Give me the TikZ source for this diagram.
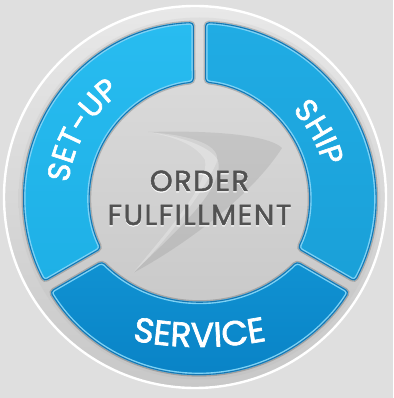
\documentclass[tikz,border=0pt]{standalone}
\usepackage{fontspec}
\setmainfont{Poppins}
\newfontfamily\bandff{Poppins}[FakeBold=2]
\newfontfamily\ordff{Poppins}[FakeBold=1.6,LetterSpace=5]
\usetikzlibrary{decorations.text,calc}
\definecolor{bg}{RGB}{223,223,223}
\definecolor{discT}{RGB}{232,232,232}
\definecolor{discB}{RGB}{200,200,200}
\definecolor{rimT}{RGB}{222,222,222}
\definecolor{rimB}{RGB}{196,196,196}
\definecolor{setT}{RGB}{40,188,240}
\definecolor{setB}{RGB}{30,176,230}
\definecolor{shipT}{RGB}{32,172,228}
\definecolor{shipB}{RGB}{26,160,216}
\definecolor{servT}{RGB}{16,146,210}
\definecolor{servB}{RGB}{8,128,196}
\definecolor{edge}{RGB}{22,118,178}
\definecolor{lightline}{RGB}{125,210,245}
\definecolor{txtgray}{RGB}{82,82,82}
\newcommand\bandfont{\fontsize{31}{31}\selectfont\bandff}
\newcommand\servfont{\fontsize{34.5}{34.5}\selectfont\bandff}
\newcommand\ordfont{\fontsize{29}{29}\selectfont\ordff}
\def\pSetup{($(Co)+(91.79:176.5)$) arc[start angle=91.79,end angle=208.21,radius=176.5] -- ($(Cs)+(205.9:116)$) arc[start angle=205.9,end angle=95.94,radius=116] -- cycle}
\def\pShip{($(Co)+(-28.21:176.5)$) arc[start angle=-28.21,end angle=88.21,radius=176.5] -- ($(Ch)+(84.06:116)$) arc[start angle=84.06,end angle=-25.9,radius=116] -- cycle}
\def\pServ{($(Co)+(211.79:176.5)$) arc[start angle=211.79,end angle=328.21,radius=176.5] -- ($(Cv)+(314.78:138)$) arc[start angle=314.78,end angle=225.22,radius=138] -- cycle}
\newcommand\drawband[3]{%
  \draw[black,opacity=0.18,line width=3,rounded corners=4] #1;
  \shade[top color=#2,bottom color=#3,rounded corners=4] #1;
  \begin{scope}
    \clip[rounded corners=4] #1;
    \draw[lightline,line width=5,rounded corners=4] #1;
    \draw[edge,line width=2.2,rounded corners=4] #1;
  \end{scope}}
\begin{document}
\begin{tikzpicture}[x=1pt,y=1pt]
\useasboundingbox (0,0) rectangle (393,398);
\fill[bg] (0,0) rectangle (393,398);
\coordinate (Co) at (199.5,199.5);
\coordinate (Cs) at (206,200);
\coordinate (Ch) at (193,200);
\coordinate (Cv) at (199.5,235);
\coordinate (Cw) at (195,201);
\coordinate (Ct) at (199.5,407);
% outer disc
\shade[top color=discT,bottom color=discB] (Cw) circle[radius=191];
\draw[white,line width=2.4] (Cw) circle[radius=191];
\shade[top color=rimT,bottom color=rimB] (Co) circle[radius=181];
% swoosh
\fill[black,opacity=0.08] (148,266) .. controls (220,268) and (270,262) .. (282,250) .. controls (250,200) and (180,150) .. (133,125) .. controls (180,170) and (225,210) .. (218,238) .. controls (210,252) and (180,262) .. (148,266) -- cycle;
\fill[white,opacity=0.25] (148,266) .. controls (200,262) and (225,250) .. (215,232) .. controls (200,200) and (160,150) .. (133,125) .. controls (170,170) and (210,215) .. (205,238) .. controls (195,255) and (170,262) .. (148,266) -- cycle;
% bands
\drawband{\pSetup}{setT}{setB}
\drawband{\pShip}{shipT}{shipB}
\drawband{\pServ}{servT}{servB}
% band labels
\path[decorate,decoration={text along path,text align=center,text color=white,text={|\bandfont|SET-UP}}]
  ($(Co)+(205:132)$) arc[start angle=205,end angle=95,radius=132];
\path[decorate,decoration={text along path,text align=center,text color=white,text={|\bandfont|SHIP}}]
  ($(Co)+(84:128)$) arc[start angle=84,end angle=-26,radius=128];
\path[decorate,decoration={text along path,text align=center,text color=white,text={|\servfont|SERVICE}}]
  ($(Ct)+(245:356)$) arc[start angle=245,end angle=295,radius=356];
% centre text
\node[anchor=base,inner sep=0,text=white,font=\ordfont] (ords) at (199.5,205.8) {ORDER};
\node[anchor=base,inner sep=0,text=txtgray,font=\ordfont] (ord) at (199.5,207) {ORDER};
\node[anchor=base,inner sep=0,text=white,font=\ordfont] (fuls) at (199.5,171.8) {FULFILLMENT};
\node[anchor=base,inner sep=0,text=txtgray,font=\ordfont] (ful) at (199.5,173) {FULFILLMENT};
\end{tikzpicture}
\end{document}
